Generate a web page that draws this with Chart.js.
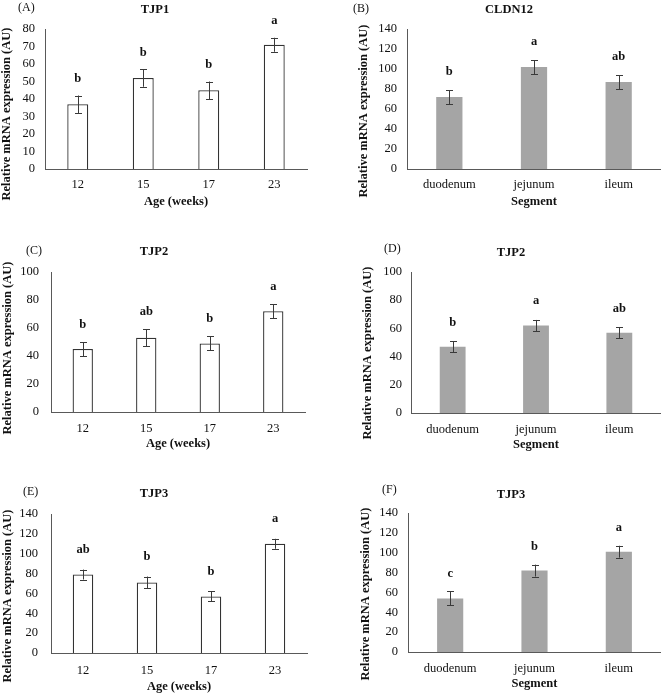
<!DOCTYPE html>
<html>
<head>
<meta charset="utf-8">
<script src="https://cdn.jsdelivr.net/npm/chart.js@4.4.0/dist/chart.umd.min.js"></script>
<style>
    html, body { margin: 0; padding: 0; background: #fff; }
    #page { position: relative; width: 661px; height: 693px; overflow: hidden; }
    canvas { position: absolute; }
</style>
</head>
<body>
<div id="page">
    <canvas id="chartA" width="330" height="230" style="left:0;top:0"></canvas>
    <canvas id="chartB" width="331" height="230" style="left:330px;top:0"></canvas>
    <canvas id="chartC" width="330" height="230" style="left:0;top:230px"></canvas>
    <canvas id="chartD" width="331" height="230" style="left:330px;top:230px"></canvas>
    <canvas id="chartE" width="330" height="233" style="left:0;top:460px"></canvas>
    <canvas id="chartF" width="331" height="233" style="left:330px;top:460px"></canvas>
</div>
<script>
// Données
const ageLabels = ['12', '15', '17', '23'];
const segmentLabels = ['duodenum', 'jejunum', 'ileum'];

const tjp1Age = [37, 52, 45, 71];
const tjp1AgeErr = [5, 5, 5, 4];
const tjp1AgeSig = ['b', 'b', 'b', 'a'];

const cldn12Seg = [72, 102, 87];
const cldn12SegErr = [7, 7, 7];
const cldn12SegSig = ['b', 'a', 'ab'];

const tjp2Age = [45, 53, 49, 72];
const tjp2AgeErr = [5, 6, 5, 5];
const tjp2AgeSig = ['b', 'ab', 'b', 'a'];

const tjp2Seg = [47, 62, 57];
const tjp2SegErr = [4, 4, 4];
const tjp2SegSig = ['b', 'a', 'ab'];

const tjp3Age = [79, 71, 57, 110];
const tjp3AgeErr = [5, 6, 5, 5];
const tjp3AgeSig = ['ab', 'b', 'b', 'a'];

const tjp3Seg = [54, 82, 101];
const tjp3SegErr = [7, 6, 6];
const tjp3SegSig = ['c', 'b', 'a'];

const serif = '"Liberation Serif", "Times New Roman", serif';
const textColor = '#111';
const axisColor = '#595959';
const grayBar = '#a5a5a5';
const yTitle = 'Relative mRNA expression (AU)';

/**
 * Barres d'erreur, lettres de significativité, étiquette et titre du panneau
 */
const panelDecor = {
    id: 'panelDecor',
    afterDatasetsDraw(chart, args, opts) {
        const { ctx } = chart;
        const yScale = chart.scales.y;
        const values = chart.data.datasets[0].data;
        const meta = chart.getDatasetMeta(0);
        ctx.save();
        ctx.strokeStyle = '#3a3a3a';
        ctx.lineWidth = 1;
        ctx.fillStyle = textColor;
        ctx.textAlign = 'center';
        ctx.textBaseline = 'middle';
        ctx.font = 'bold 12.5px ' + serif;
        meta.data.forEach((bar, i) => {
            const err = opts.errors[i];
            const top = yScale.getPixelForValue(values[i] + err);
            const bot = yScale.getPixelForValue(values[i] - err);
            const cx = Math.round(bar.x) + 0.5;
            ctx.beginPath();
            ctx.moveTo(cx, top);
            ctx.lineTo(cx, bot);
            ctx.moveTo(cx - 3.5, Math.round(top) + 0.5);
            ctx.lineTo(cx + 3.5, Math.round(top) + 0.5);
            ctx.moveTo(cx - 3.5, Math.round(bot) + 0.5);
            ctx.lineTo(cx + 3.5, Math.round(bot) + 0.5);
            ctx.stroke();
            ctx.fillText(opts.letters[i], bar.x, top - opts.letterGap);
        });

        // titre du gène
        ctx.fillText(opts.title, opts.titlePos[0], opts.titlePos[1]);

        // étiquette (A), (B)...
        ctx.font = '12px ' + serif;
        ctx.textAlign = 'left';
        ctx.fillText(opts.tag, opts.tagPos[0], opts.tagPos[1]);

        // titre de l'axe Y
        ctx.font = 'bold 12.5px ' + serif;
        ctx.textAlign = 'center';
        ctx.translate(opts.yTitlePos[0], opts.yTitlePos[1]);
        ctx.rotate(-Math.PI / 2);
        ctx.fillText(yTitle, 0, 0);
        ctx.restore();
    }
};

const panels = [
    { id: 'chartA', size: [330, 230], area: [45, 29, 307, 169], labels: ageLabels, values: tjp1Age, errors: tjp1AgeErr, letters: tjp1AgeSig,
      max: 80, step: 10, open: true, tag: '(A)', tagPos: [18, 7.5], title: 'TJP1', titlePos: [155, 10], yTitlePos: [7, 114],
      xTitle: 'Age (weeks)', tickY: 183, xTitleY: 202, yGap: 10, letterGap: 16.5 },
    { id: 'chartB', size: [331, 230], area: [77, 29, 331, 169], labels: segmentLabels, values: cldn12Seg, errors: cldn12SegErr, letters: cldn12SegSig,
      max: 140, step: 20, open: false, tag: '(B)', tagPos: [23, 9], title: 'CLDN12', titlePos: [179, 9.5], yTitlePos: [34, 111],
      xTitle: 'Segment', tickY: 183, xTitleY: 202, yGap: 10, letterGap: 18 },
    { id: 'chartC', size: [330, 230], area: [51, 42, 305, 182], labels: ageLabels, values: tjp2Age, errors: tjp2AgeErr, letters: tjp2AgeSig,
      max: 100, step: 20, open: true, tag: '(C)', tagPos: [26, 21], title: 'TJP2', titlePos: [154, 22], yTitlePos: [7.5, 118],
      xTitle: 'Age (weeks)', tickY: 197, xTitleY: 214, yGap: 12, letterGap: 17.7 },
    { id: 'chartD', size: [331, 230], area: [81, 42, 331, 183], labels: segmentLabels, values: tjp2Seg, errors: tjp2SegErr, letters: tjp2SegSig,
      max: 100, step: 20, open: false, tag: '(D)', tagPos: [54, 19], title: 'TJP2', titlePos: [181, 23], yTitlePos: [38, 123],
      xTitle: 'Segment', tickY: 198, xTitleY: 215, yGap: 9, letterGap: 18.7 },
    { id: 'chartE', size: [330, 233], area: [51, 54, 307, 193], labels: ageLabels, values: tjp3Age, errors: tjp3AgeErr, letters: tjp3AgeSig,
      max: 140, step: 20, open: true, tag: '(E)', tagPos: [23, 32], title: 'TJP3', titlePos: [154, 34], yTitlePos: [8, 136],
      xTitle: 'Age (weeks)', tickY: 209, xTitleY: 227, yGap: 13, letterGap: 20 },
    { id: 'chartF', size: [331, 233], area: [78, 53, 331, 192], labels: segmentLabels, values: tjp3Seg, errors: tjp3SegErr, letters: tjp3SegSig,
      max: 140, step: 20, open: false, tag: '(F)', tagPos: [52, 30], title: 'TJP3', titlePos: [181, 35], yTitlePos: [36, 134],
      xTitle: 'Segment', tickY: 207, xTitleY: 224, yGap: 10, letterGap: 18 },
];

function initPanel(p) {
    const [w, h] = p.size;
    const [left, top, right, bottom] = p.area;
    const lineH = 12.5 * 1.2;
    new Chart(document.getElementById(p.id), {
        type: 'bar',
        data: {
            labels: p.labels,
            datasets: [{
                data: p.values,
                backgroundColor: p.open ? '#ffffff' : grayBar,
                borderColor: p.open ? '#333333' : grayBar,
                borderWidth: p.open ? 1.3 : 0,
                barPercentage: p.open ? 0.32 : 0.31,
                categoryPercentage: 1,
            }],
        },
        options: {
            responsive: false,
            animation: false,
            layout: { padding: { top: top, right: w - right, left: 0, bottom: 0 } },
            plugins: {
                legend: { display: false },
                tooltip: { enabled: false },
                panelDecor: p,
            },
            scales: {
                x: {
                    grid: { display: false, drawTicks: false },
                    border: { display: true, color: axisColor, width: 1 },
                    ticks: {
                        color: textColor,
                        maxRotation: 0,
                        padding: p.tickY - bottom - 5.5,
                        font: { family: serif, size: 12.5 },
                    },
                    title: {
                        display: true,
                        text: p.xTitle,
                        color: textColor,
                        padding: { top: 0, bottom: h - p.xTitleY - lineH / 2 },
                        font: { family: serif, size: 12.5, weight: 'bold' },
                    },
                    afterFit: (s) => { s.height = h - bottom; },
                },
                y: {
                    min: 0,
                    max: p.max,
                    grid: { display: false, drawTicks: false },
                    border: { display: true, color: axisColor, width: 1 },
                    ticks: {
                        stepSize: p.step,
                        autoSkip: false,
                        color: textColor,
                        padding: p.yGap,
                        font: { family: serif, size: 12.5 },
                    },
                    afterFit: (s) => { s.width = left; },
                },
            },
        },
        plugins: [panelDecor],
    });
}

document.addEventListener('DOMContentLoaded', () => {
    panels.forEach(initPanel);
});
</script>
</body>
</html>
